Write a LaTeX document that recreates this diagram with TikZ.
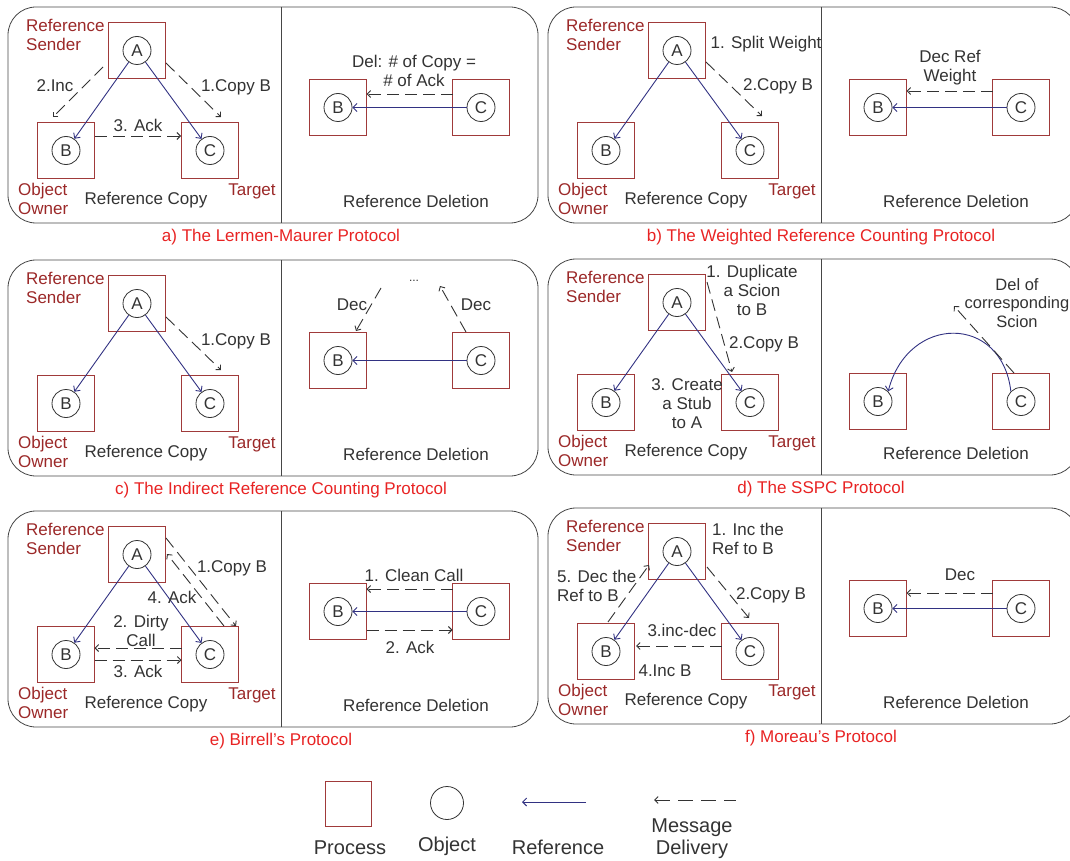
\documentclass[tikz,border=0pt]{standalone}
\usepackage{fontspec}
\setmainfont{Liberation Sans}
\usetikzlibrary{arrows.meta}
\definecolor{procred}{RGB}{160,58,58}
\definecolor{rolered}{RGB}{155,40,40}
\definecolor{capred}{RGB}{232,35,35}
\definecolor{refblue}{RGB}{50,50,130}
\definecolor{ink}{RGB}{51,51,51}
\definecolor{framegray}{RGB}{70,70,70}

\tikzset{
  proc/.style={draw=procred, line width=1pt, minimum width=57pt, minimum height=56pt, inner sep=0pt},
  obj/.style={circle, draw=ink, line width=0.8pt, minimum size=28pt, inner sep=0pt, text=ink},
  ref/.style={draw=refblue, line width=0.9pt, -{Straight Barb[length=4pt,width=8pt]}},
  msgline/.style={draw=ink, line width=0.9pt, dash pattern=on 12pt off 6pt},
  msg/.style={msgline, -{Straight Barb[length=3.5pt,width=7pt]}},
  lbl/.style={text=ink, inner sep=0pt, align=center},
  role/.style={text=rolered, inner sep=0pt, align=left},
  captext/.style={text=capred, inner sep=0pt},
  panelframe/.style={draw=framegray, line width=0.8pt, rounded corners=28pt},
  divider/.style={draw=framegray, line width=0.8pt},
  legtext/.style={lbl, font=\fontsize{20}{22}\selectfont},
}

% Frame, processes, objects and references of the copy half of one panel.
% #1 name prefix, #2 caption, #3 vertical centre of the deletion processes
\newcommand\panelbase[3]{%
  \draw[panelframe] (8,7) rectangle (538,223);
  \draw[divider] (281,7) -- (281,223);
  \node[proc] (#1PA) at (137,50.5) {};
  \node[proc] (#1PB) at (66,150.5) {};
  \node[proc] (#1PC) at (210,150.5) {};
  \node[obj] (#1A) at (137,50.5) {A};
  \node[obj] (#1B) at (66,150.5) {B};
  \node[obj] (#1C) at (210,150.5) {C};
  \draw[ref] (#1A) -- (#1B);
  \draw[ref] (#1A) -- (#1C);
  \node[role, anchor=west] (#1snd) at (26,34.5) {Reference\\Sender};
  \node[role, anchor=west] (#1own) at (18,198.5) {Object\\Owner};
  \node[role] (#1tgt) at (252,191) {Target};
  \node[lbl] (#1rc) at (146,200) {Reference Copy};
  \node[lbl] (#1rd) at (416,201) {Reference Deletion};
  \node[proc] (#1PBd) at (338,#3) {};
  \node[proc] (#1PCd) at (481,#3) {};
  \node[obj] (#1Bd) at (338,#3) {B};
  \node[obj] (#1Cd) at (481,#3) {C};
  \node[captext] (#1cap) at (281,237) {#2};
}

\begin{document}
\begin{tikzpicture}[x=1pt, y=-1pt, font=\fontsize{17}{19}\selectfont]
\useasboundingbox (0,0) rectangle (1070,861);

% ---------- a) Lermen-Maurer ----------
\begin{scope}
  \panelbase{a}{a) The Lermen-Maurer Protocol}{107.5}
  \coordinate (aI1) at (103,67);  \coordinate (aI2) at (53,117);
  \coordinate (aC1) at (166,63);  \coordinate (aC2) at (221,117);
  \coordinate (aK1) at (95,136);  \coordinate (aK2) at (181,136);
  \draw[msg] (aI1) -- (aI2);
  \draw[msg] (aC1) -- (aC2);
  \draw[msg] (aK1) -- (aK2);
  \node[lbl] at (55,86) {2.Inc};
  \node[lbl] at (236,87) {1.Copy B};
  \node[lbl] at (138,125) {3. Ack};
  \coordinate (aD1) at (452.5,94); \coordinate (aD2) at (366.5,94);
  \draw[msg] (aD1) -- (aD2);
  \draw[ref] (aCd) -- (aBd);
  \node[lbl] at (414,71) {Del: \# of Copy =\\\# of Ack};
\end{scope}

% ---------- b) Weighted reference counting ----------
\begin{scope}[shift={(540,0)}]
  \panelbase{b}{b) The Weighted Reference Counting Protocol}{107.5}
  \coordinate (bC1) at (166,62);  \coordinate (bC2) at (222,116);
  \draw[msg] (bC1) -- (bC2);
  \node[lbl] at (226,44) {1. Split Weight};
  \node[lbl] at (238,86) {2.Copy B};
  \coordinate (bD1) at (452.5,91); \coordinate (bD2) at (366.5,91);
  \draw[msg] (bD1) -- (bD2);
  \draw[ref] (bCd) -- (bBd);
  \node[lbl] at (410,68) {Dec Ref\\Weight};
\end{scope}

% ---------- c) Indirect reference counting ----------
\begin{scope}[shift={(0,253)}]
  \panelbase{c}{c) The Indirect Reference Counting Protocol}{107.5}
  \coordinate (cC1) at (166,64);  \coordinate (cC2) at (221,117);
  \draw[msg] (cC1) -- (cC2);
  \node[lbl] at (236,88) {1.Copy B};
  \coordinate (cL1) at (381,35);  \coordinate (cL2) at (356,78);
  \coordinate (cR1) at (466,79);  \coordinate (cR2) at (440,33);
  \draw[msg] (cL1) -- (cL2);
  \draw[msg] (cR1) -- (cR2);
  \draw[ref] (cCd) -- (cBd);
  \node[lbl] at (352,52) {Dec};
  \node[lbl] at (476,52) {Dec};
  \node[lbl, font=\fontsize{12}{14}\selectfont] at (414,28) {...};
\end{scope}

% ---------- d) SSPC ----------
\begin{scope}[shift={(540,252)}]
  \panelbase{d}{d) The SSPC Protocol}{149.5}
  \coordinate (dC1) at (167,30);  \coordinate (dC2) at (192,120);
  \draw[msg] (dC1) -- (dC2);
  \node[lbl] at (212,38) {1. Duplicate\\a Scion\\to B};
  \node[lbl] at (224,92) {2.Copy B};
  \node[lbl] at (147,152) {3. Create\\a Stub\\to A};
  \draw[ref] (dCd.north west) .. controls (462,62) and (368,62) .. (dBd.north east);
  \coordinate (dS1) at (474,121); \coordinate (dS2) at (414,54);
  \draw[msg] (dS1) -- (dS2);
  \node[lbl, font=\fontsize{16.5}{18.5}\selectfont] at (477,51) {Del of\\corresponding\\Scion};
\end{scope}

% ---------- e) Birrell ----------
\begin{scope}[shift={(0,504)}]
  \panelbase{e}{e) Birrell's Protocol}{107.5}
  \coordinate (eC1) at (166,34);  \coordinate (eC2) at (236,122);
  \coordinate (eA1) at (224,122); \coordinate (eA2) at (167,50);
  \draw[msg] (eC1) -- (eC2);
  \draw[msg] (eA1) -- (eA2);
  \node[lbl] at (232,64) {1.Copy B};
  \node[lbl] at (172,93) {4. Ack};
  \node[lbl] at (141,126.5) {2. Dirty\\Call};
  \coordinate (eY1) at (181.5,144); \coordinate (eY2) at (94.5,144);
  \coordinate (eK1) at (94.5,156);  \coordinate (eK2) at (181.5,156);
  \draw[msg] (eY1) -- (eY2);
  \draw[msg] (eK1) -- (eK2);
  \node[lbl] at (138,167) {3. Ack};
  \coordinate (eD1) at (452.5,85); \coordinate (eD2) at (366.5,85);
  \coordinate (eD3) at (366.5,126); \coordinate (eD4) at (452.5,126);
  \draw[msg] (eD1) -- (eD2);
  \draw[ref] (eCd) -- (eBd);
  \draw[msg] (eD3) -- (eD4);
  \node[lbl] at (414,71) {1. Clean Call};
  \node[lbl] at (410,143) {2. Ack};
\end{scope}

% ---------- f) Moreau ----------
\begin{scope}[shift={(540,501)}]
  \panelbase{f}{f) Moreau's Protocol}{107.5}
  \node[lbl, align=left, anchor=west] at (172,38) {1. Inc the\\Ref to B};
  \node[lbl, align=left, anchor=west] at (17,84.5) {5. Dec the\\Ref to B};
  \coordinate (fR1) at (68,121);  \coordinate (fR2) at (109,64);
  \draw[msg] (fR1) -- (fR2);
  \coordinate (fC1) at (167,66);  \coordinate (fC2) at (209,117);
  \draw[msg] (fC1) -- (fC2);
  \node[lbl] at (231,94) {2.Copy B};
  \coordinate (fI1) at (181.5,145); \coordinate (fI2) at (96,145);
  \draw[msg] (fI1) -- (fI2);
  \node[lbl] at (142,129) {3.inc-dec};
  \node[lbl] at (125,170) {4.Inc B};
  \coordinate (fD1) at (452.5,92); \coordinate (fD2) at (366.5,92);
  \draw[msg] (fD1) -- (fD2);
  \draw[ref] (fCd) -- (fBd);
  \node[lbl] at (420,74) {Dec};
\end{scope}

% ---------- legend ----------
\node[proc, minimum width=46pt, minimum height=45pt] (legP) at (348,803.5) {};
\node[circle, draw=ink, line width=0.8pt, minimum size=33pt, inner sep=0pt] (legO) at (447,803) {};
\coordinate (legR1) at (586,802); \coordinate (legR2) at (522,802);
\draw[ref] (legR1) -- (legR2);
\coordinate (legM1) at (654,800); \coordinate (legM2) at (736,800);
\draw[msgline, dash pattern=on 15pt off 8pt, {Straight Barb[length=3.5pt,width=7pt]}-] (legM1) -- (legM2);
\node[legtext] (legPt) at (350,848) {Process};
\node[legtext] (legOt) at (447,846) {Object};
\node[legtext] (legRt) at (558,847) {Reference};
\node[legtext] (legMt) at (692,838.5) {Message\\Delivery};
\end{tikzpicture}
\end{document}
